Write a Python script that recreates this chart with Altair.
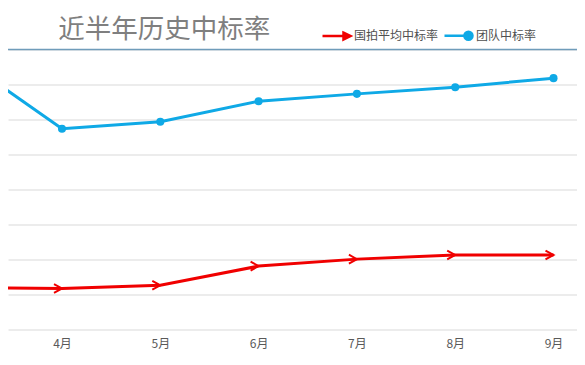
import altair as alt
import pandas as pd

months = [3, 4, 5, 6, 7, 8, 9]
series_names = ["国拍平均中标率", "团队中标率"]
avg_rate = [11.8, 11.6, 12.5, 18.0, 20.0, 21.2, 21.2]
team_rate = [77.1, 57.3, 59.3, 65.2, 67.3, 69.2, 71.8]
tick_months = [4, 5, 6, 7, 8, 9]
y_grid = [0, 10, 20, 30, 40, 50, 60, 70, 80]
colors = ["#f00000", "#0fa9e6"]

df_avg = pd.DataFrame({"month": months, "value": avg_rate})
df_team = pd.DataFrame({"month": months, "value": team_rate})
legend_df = pd.DataFrame({"series": series_names, "month": [20, 20], "value": [40, 40]})
rule_df = pd.DataFrame({"month": [5], "value": [80]})

FONT = "Noto Sans CJK SC"
W = 569
xs = alt.Scale(domain=[3.4507, 9.2390], nice=False, zero=False)
ys = alt.Scale(domain=[0, 80], nice=False)

x_axis = alt.Axis(values=tick_months, labelExpr="datum.value + '月'",
                  title=None, domain=False, ticks=False, tickSize=0, grid=False, labelFont=FONT,
                  labelFontSize=12, labelColor="#595959", labelPadding=9)
y_axis = alt.Axis(values=y_grid, title=None, labels=False, ticks=False,
                  domain=False, grid=True, gridColor="#d9d9d9", gridWidth=1)
X = alt.X("month:Q", scale=xs, axis=x_axis)
Y = alt.Y("value:Q", scale=ys, axis=y_axis)

leg_shapes = ["M-1,0H0.6M0.5,-0.24L1,0L0.5,0.24Z",
              "M-1,0H0.7M1,0A0.29,0.29,0,1,1,0.42,0A0.29,0.29,0,1,1,1,0Z"]
legend_layer = alt.Chart(legend_df).mark_point(filled=False, opacity=1, strokeWidth=2.5, size=784, clip=True).encode(
    x=X, y=Y,
    color=alt.Color("series:N", scale=alt.Scale(domain=series_names, range=colors), title=None,
                    legend=alt.Legend(orient="none", legendX=313, legendY=-29.5, direction="horizontal",
                                      title=None, labelFont=FONT, labelFontSize=12, labelColor="#505050",
                                      labelOffset=2, columnPadding=0, symbolSize=784, symbolStrokeWidth=2.5,
                                      padding=0)),
    fill=alt.Fill("series:N", scale=alt.Scale(domain=series_names, range=colors), title=None),
    shape=alt.Shape("series:N", scale=alt.Scale(domain=series_names, range=leg_shapes), title=None),
)

top_rule = alt.Chart(rule_df).mark_rule(color="#6f9cba", strokeWidth=1.5).encode(
    y=Y, x=alt.value(0), x2=alt.value(W))

line_avg = alt.Chart(df_avg).mark_line(strokeWidth=3, clip=True, color=colors[0]).encode(x=X, y=Y)
line_team = alt.Chart(df_team).mark_line(strokeWidth=3, clip=True, color=colors[1]).encode(x=X, y=Y)

arrow = "M-1,-0.55L0,0L-1,0.55"
arrows = alt.Chart(df_avg).mark_point(shape=arrow, filled=False, size=256, strokeWidth=2, opacity=1,
                                      clip=True, color=colors[0]).encode(x=X, y=Y)
dots = alt.Chart(df_team).mark_point(filled=True, size=65, opacity=1, clip=True,
                                     color=colors[1]).encode(x=X, y=Y)

chart = alt.layer(legend_layer, top_rule, line_avg, line_team, arrows, dots).properties(
    width=W, height=279.5,
    autosize=alt.AutoSizeParams(type="none"),
    padding={"left": 0, "top": 41.5, "right": 0, "bottom": 22},
    title=alt.TitleParams("近半年历史中标率", anchor="start", dx=51, dy=29.5, fontSize=26.5, font=FONT,
                          fontWeight="normal", color="#7f7f7f", offset=6),
).configure_view(stroke=None)

chart.save("out.html", embed_options={"renderer": "svg", "actions": False})
